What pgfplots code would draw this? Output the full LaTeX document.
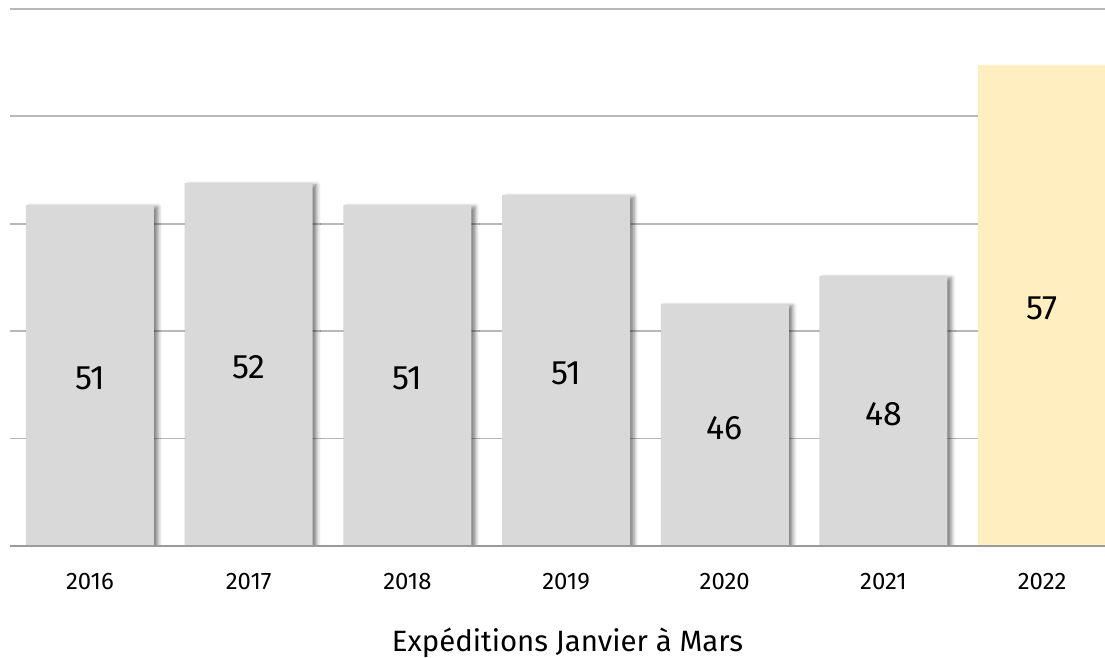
\documentclass[border=0pt]{standalone}
\usepackage{pgfplots}
\pgfplotsset{compat=1.18}
\usepackage{fontspec}
\setmainfont{Fira Sans}
\usetikzlibrary{shadows.blur}
\definecolor{barg}{HTML}{D9D9D9}
\definecolor{bary}{HTML}{FFEFC0}
\definecolor{gridc}{HTML}{B8B8B8}
\definecolor{basec}{HTML}{9A9A9A}
\begin{document}
\begin{tikzpicture}
\useasboundingbox (-10bp,-112bp) rectangle (1095bp,546bp);
\begin{axis}[
  scale only axis, width=1095bp, height=537bp,
  xmin=-0.504, xmax=6.396, ymin=35, ymax=60,
  xtick={0,1,2,3,4,5,6},
  xticklabels={2016,2017,2018,2019,2020,2021,2022},
  ytick={40,45,50,55,60}, yticklabels={},
  ymajorgrids, grid style={gridc, line width=1.8bp},
  axis line style={draw=none},
  major tick length=0pt,
  tick style={draw=none},
  xticklabel style={font=\fontsize{24}{28}\selectfont, anchor=base, yshift=-43bp},
  xlabel={Expéditions Janvier à Mars},
  xlabel style={font=\fontsize{29.5}{34}\selectfont, at={(axis description cs:0.5,0)}, anchor=base, yshift=-105bp, xshift=10bp},
]
\addplot[ybar, bar width=128bp, bar shift=0pt, fill=barg, draw=none,
  blur shadow={shadow xshift=4bp, shadow yshift=-2bp, shadow blur radius=4bp, shadow opacity=50}]
  coordinates {(0,50.88) (1,51.90) (2,50.88) (3,51.34) (4,46.27) (5,47.57)};
\addplot[ybar, bar width=128bp, bar shift=0pt, fill=bary, draw=none]
  coordinates {(6,57.39)};
\addplot[only marks, mark=none, nodes near coords, point meta=explicit symbolic,
  nodes near coords style={anchor=center, font=\fontsize{34}{40}\selectfont, text=black, yshift=-3bp}]
  coordinates {(0,42.94)[51] (1,43.45)[52] (2,42.94)[51] (3,43.17)[51] (4,40.64)[46] (5,41.29)[48] (6,46.20)[57]};
\draw[basec, line width=3bp] (axis description cs:0,0) -- (axis description cs:1,0);
\end{axis}
\end{tikzpicture}
\end{document}
